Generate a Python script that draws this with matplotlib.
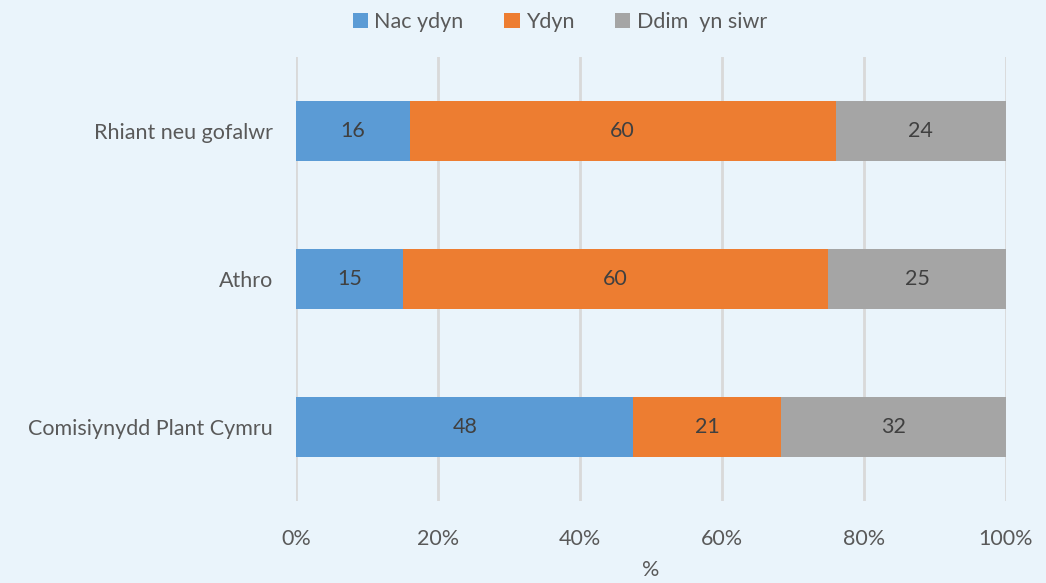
import matplotlib
matplotlib.use("Agg")
import matplotlib.pyplot as plt
import numpy as np

categories = ["Comisiynydd Plant Cymru", "Athro", "Rhiant neu gofalwr"]
series_names = ["Nac ydyn", "Ydyn", "Ddim  yn siwr"]
nac_ydyn = [48, 15, 16]
ydyn = [21, 60, 60]
ddim = [32, 25, 24]
colors = ["#5B9BD5", "#ED7D31", "#A5A5A5"]
xticks = [0, 20, 40, 60, 80, 100]
xtick_labels = ["0%", "20%", "40%", "60%", "80%", "100%"]

bg = "#EAF4FB"
plt.rcParams['font.family'] = ['Lato', 'DejaVu Sans']
fs = 15.5

fig = plt.figure(figsize=(10.46, 5.83), dpi=100, facecolor=bg)
W, H = 1046, 583
ax = fig.add_axes([296 / W, (H - 501) / H, (1006 - 296) / W, (501 - 57) / H])
ax.set_facecolor(bg)

data = np.array([nac_ydyn, ydyn, ddim], dtype=float)
totals = data.sum(axis=0)
shares = data / totals * 100
y = np.arange(len(categories))
left = np.zeros(len(categories))
bar_h = 60 / 148
for i, name in enumerate(series_names):
    bars = ax.barh(y, shares[i], left=left, height=bar_h, color=colors[i],
                   label=name, zorder=3, edgecolor="none")
    for j, b in enumerate(bars):
        ax.text(left[j] + shares[i][j] / 2, y[j], f"{int(data[i][j])}",
                ha="center", va="center", fontsize=fs, color="#404040", zorder=4)
    left += shares[i]

ax.set_xlim(0, 100)
ax.set_ylim(-0.5, 2.5)
ax.set_xticks(xticks)
ax.set_xticklabels(xtick_labels, fontsize=fs, color="#595959")
ax.set_yticks(y)
ax.set_yticklabels(categories, fontsize=fs, color="#595959")
ax.tick_params(axis="x", length=0, pad=20)
ax.tick_params(axis="y", length=0, pad=16.5)
ax.xaxis.grid(True, color="#D9D9D9", linewidth=2, zorder=0)
for s in ax.spines.values():
    s.set_visible(False)
ax.set_xlabel("%", fontsize=fs, color="#595959", labelpad=8)

leg = fig.legend(loc="center", bbox_to_anchor=(560 / W, 1 - 22 / H), ncol=3,
                 frameon=False, fontsize=fs, handlelength=0.7, handleheight=0.7,
                 columnspacing=1.9, handletextpad=0.3, labelcolor="#595959")

fig.savefig("out.png", dpi=100, facecolor=bg)
